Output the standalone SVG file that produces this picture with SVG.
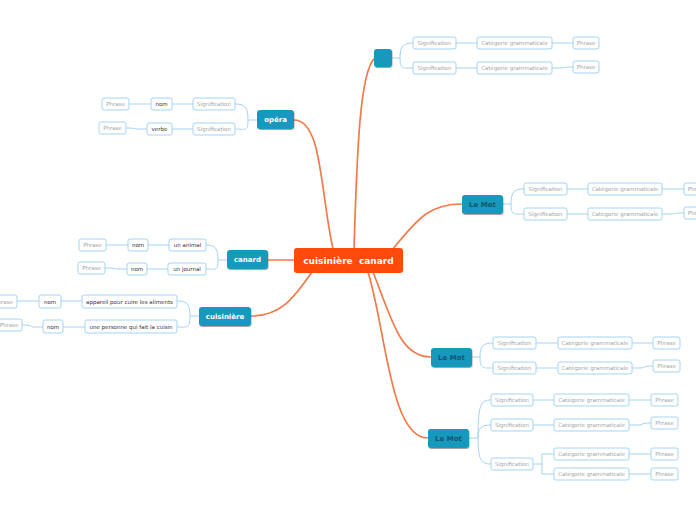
<svg xmlns="http://www.w3.org/2000/svg" width="696" height="520" viewBox="0 0 696 520">
<defs>
<filter id="sh" x="-20%" y="-20%" width="140%" height="160%"><feDropShadow dx="0.5" dy="1" stdDeviation="0.7" flood-color="#000" flood-opacity="0.35"/></filter>
<style>
text{font-family:"DejaVu Sans","Liberation Sans",sans-serif;text-anchor:middle}
.main{stroke:#f27a4a;stroke-width:1.7;fill:none;stroke-linecap:round}
.sub{stroke:#a3d3f3;stroke-width:1;fill:none}
.box{fill:#fff;stroke:#a3d3f3;stroke-width:1}
.topic{fill:#1699bd;filter:url(#sh)}
.g{font-size:5.5px;fill:#a5a5a5}
.d{font-size:5.5px;fill:#333}
.tw{font-size:7px;font-weight:bold;fill:#fff}
.td{font-size:7px;font-weight:bold;fill:#0e5670}
</style>
</defs>
<rect width="696" height="520" fill="#fff"/>
<g id="connectors">
<path class="main" d="M354,249 C357,150 360,70 375,58"/>
<path class="main" d="M333,249 C320,190 322,120 294,120"/>
<path class="main" d="M393,249 C420,215 432,204 462,204"/>
<path class="main" d="M295,260 L268,260"/>
<path class="main" d="M312,272 C295,296 282,316 251,316"/>
<path class="main" d="M373,272 C392,320 400,357 431,357"/>
<path class="main" d="M368,272 C386,330 390,438 428,438"/>
<path class="sub" d="M392,58 L400,58 C400,46 403,43 413,43 M400,58 C400,70 403,68 413,68 M456,43 L477,43 M552,43 L573,43 M456,68 L477,68 M552,68 L562,68 C566,67 568,67 573,67"/>
<path class="sub" d="M503,204 L511,204 C511,192 514,189 524,189 M511,204 C511,216 514,214 524,214 M567,189 L588,189 M662,189 L684,189 M567,214 L588,214 M662,214 L672,214 C676,213 678,213 684,213"/>
<path class="sub" d="M472,357 L480,357 C480,346 483,343 493,343 M480,357 C480,369 483,368 493,368 M536,343 L558,343 M632,343 L653,343 M536,368 L558,368 M632,368 L642,368 C646,366 648,366 653,366"/>
<path class="sub" d="M469,438 L478,438 C478,404 481,400 491,400 M478,438 C478,428 481,425 491,425 M478,438 C478,460 481,464 491,464 M533,400 L554,400 M629,400 L651,400 M533,425 L554,425 M629,425 L640,425 C644,423 646,423 651,423 M533,464 L542,464 M542,454 L542,474 M542,454 L554,454 M542,474 L554,474 M629,454 L651,454 M629,474 L651,474"/>
<path class="sub" d="M257,120 L248,120 C248,107 245,104 235,104 M248,120 C248,132 245,129 235,129 M193,104 L172,104 M151,104 L129,104 M193,129 L172,129 M147,129 L136,129 C132,128 130,128 126,128"/>
<path class="sub" d="M227,260 L218,260 C218,248 215,245 206,245 M218,260 C218,272 215,269 206,269 M169,245 L148,245 M128,245 L106,245 M168,269 L147,269 M127,269 L116,269 C112,268 110,268 105,268"/>
<path class="sub" d="M199,316 L190,316 C190,304 187,301 177,301 M190,316 C190,329 187,327 177,327 M82,301 L61,301 M39,301 L17,301 M85,327 L63,327 M43,327 L33,327 C29,325 27,325 22,325"/>
</g>
<g id="center"><rect x="294" y="248" width="109" height="25" rx="3" fill="#ff4a0c"/><text x="348.5" y="264" xml:space="preserve" style="font-size:9px;font-weight:bold;fill:#fff;white-space:pre">cuisinière  canard</text></g>
<g id="topicA"><rect class="topic" x="374" y="49" width="18" height="18" rx="3"/></g>
<g id="opera"><rect class="topic" x="257" y="110" width="37" height="19" rx="3"/><text class="tw" x="275.5" y="122">opéra</text></g>
<g id="canard"><rect class="topic" x="227" y="250" width="41" height="19" rx="3"/><text class="tw" x="247.5" y="262">canard</text></g>
<g id="cuisiniere"><rect class="topic" x="199" y="307" width="52" height="19" rx="3"/><text class="tw" x="225" y="319">cuisinière</text></g>
<g id="lemot1"><rect class="topic" x="462" y="195" width="41" height="19" rx="3"/><text class="td" x="482.5" y="207">Le Mot</text></g>
<g id="lemot2"><rect class="topic" x="431" y="348" width="41" height="19" rx="3"/><text class="td" x="451.5" y="360">Le Mot</text></g>
<g id="lemot3"><rect class="topic" x="428" y="429" width="41" height="19" rx="3"/><text class="td" x="448.5" y="441">Le Mot</text></g>
<g id="a-row1"><rect class="box" x="413" y="37" width="43" height="12" rx="2"/><text class="g" x="434.5" y="45">Signification</text><rect class="box" x="477" y="37" width="75" height="12" rx="2"/><text class="g" x="514.5" y="45">Catégorie grammaticale</text><rect class="box" x="573" y="37" width="26" height="12" rx="2"/><text class="g" x="586" y="45">Phrase</text></g>
<g id="a-row2"><rect class="box" x="413" y="62" width="43" height="12" rx="2"/><text class="g" x="434.5" y="70">Signification</text><rect class="box" x="477" y="62" width="75" height="12" rx="2"/><text class="g" x="514.5" y="70">Catégorie grammaticale</text><rect class="box" x="573" y="61" width="26" height="12" rx="2"/><text class="g" x="586" y="69">Phrase</text></g>
<g id="m1-row1"><rect class="box" x="524" y="183" width="43" height="12" rx="2"/><text class="g" x="545.5" y="191">Signification</text><rect class="box" x="588" y="183" width="74" height="12" rx="2"/><text class="g" x="625" y="191">Catégorie grammaticale</text><rect class="box" x="684" y="183" width="26" height="12" rx="2"/><text class="g" x="697" y="191">Phrase</text></g>
<g id="m1-row2"><rect class="box" x="524" y="208" width="43" height="12" rx="2"/><text class="g" x="545.5" y="216">Signification</text><rect class="box" x="588" y="208" width="74" height="12" rx="2"/><text class="g" x="625" y="216">Catégorie grammaticale</text><rect class="box" x="684" y="207" width="26" height="12" rx="2"/><text class="g" x="697" y="215">Phrase</text></g>
<g id="m2-row1"><rect class="box" x="493" y="337" width="43" height="12" rx="2"/><text class="g" x="514.5" y="345">Signification</text><rect class="box" x="558" y="337" width="74" height="12" rx="2"/><text class="g" x="595" y="345">Catégorie grammaticale</text><rect class="box" x="653" y="337" width="27" height="12" rx="2"/><text class="g" x="666.5" y="345">Phrase</text></g>
<g id="m2-row2"><rect class="box" x="493" y="362" width="43" height="12" rx="2"/><text class="g" x="514.5" y="370">Signification</text><rect class="box" x="558" y="362" width="74" height="12" rx="2"/><text class="g" x="595" y="370">Catégorie grammaticale</text><rect class="box" x="653" y="360" width="27" height="12" rx="2"/><text class="g" x="666.5" y="368">Phrase</text></g>
<g id="m3-row1"><rect class="box" x="491" y="394" width="42" height="12" rx="2"/><text class="g" x="512" y="402">Signification</text><rect class="box" x="554" y="394" width="75" height="12" rx="2"/><text class="g" x="591.5" y="402">Catégorie grammaticale</text><rect class="box" x="651" y="394" width="27" height="12" rx="2"/><text class="g" x="664.5" y="402">Phrase</text></g>
<g id="m3-row2"><rect class="box" x="491" y="419" width="42" height="12" rx="2"/><text class="g" x="512" y="427">Signification</text><rect class="box" x="554" y="419" width="75" height="12" rx="2"/><text class="g" x="591.5" y="427">Catégorie grammaticale</text><rect class="box" x="651" y="417" width="27" height="12" rx="2"/><text class="g" x="664.5" y="425">Phrase</text></g>
<g id="m3-row3"><rect class="box" x="491" y="458" width="42" height="12" rx="2"/><text class="g" x="512" y="466">Signification</text><rect class="box" x="554" y="448" width="75" height="12" rx="2"/><text class="g" x="591.5" y="456">Catégorie grammaticale</text><rect class="box" x="651" y="448" width="27" height="12" rx="2"/><text class="g" x="664.5" y="456">Phrase</text><rect class="box" x="554" y="468" width="75" height="12" rx="2"/><text class="g" x="591.5" y="476">Catégorie grammaticale</text><rect class="box" x="651" y="468" width="27" height="12" rx="2"/><text class="g" x="664.5" y="476">Phrase</text></g>
<g id="op-row1"><rect class="box" x="193" y="98" width="42" height="12" rx="2"/><text class="g" x="214" y="106">Signification</text><rect class="box" x="151" y="98" width="21" height="12" rx="2"/><text class="d" x="161.5" y="106">nom</text><rect class="box" x="102" y="98" width="27" height="12" rx="2"/><text class="g" x="115.5" y="106">Phrase</text></g>
<g id="op-row2"><rect class="box" x="193" y="123" width="42" height="12" rx="2"/><text class="g" x="214" y="131">Signification</text><rect class="box" x="147" y="123" width="25" height="12" rx="2"/><text class="d" x="159.5" y="131">verbe</text><rect class="box" x="99" y="122" width="27" height="12" rx="2"/><text class="g" x="112.5" y="130">Phrase</text></g>
<g id="ca-row1"><rect class="box" x="169" y="239" width="37" height="12" rx="2"/><text class="d" x="187.5" y="247">un animal</text><rect class="box" x="128" y="239" width="20" height="12" rx="2"/><text class="d" x="138" y="247">nom</text><rect class="box" x="79" y="239" width="27" height="12" rx="2"/><text class="g" x="92.5" y="247">Phrase</text></g>
<g id="ca-row2"><rect class="box" x="168" y="263" width="38" height="12" rx="2"/><text class="d" x="187" y="271">un journal</text><rect class="box" x="127" y="263" width="20" height="12" rx="2"/><text class="d" x="137" y="271">nom</text><rect class="box" x="78" y="262" width="27" height="12" rx="2"/><text class="g" x="91.5" y="270">Phrase</text></g>
<g id="cu-row1"><rect class="box" x="82" y="295" width="95" height="13" rx="2"/><text class="d" x="129.5" y="303.5">appareil pour cuire les aliments</text><rect class="box" x="39" y="295" width="22" height="13" rx="2"/><text class="d" x="50" y="303.5">nom</text><rect class="box" x="-10" y="295" width="27" height="13" rx="2"/><text class="g" x="3.5" y="303.5">Phrase</text></g>
<g id="cu-row2"><rect class="box" x="85" y="320" width="92" height="13" rx="2"/><text class="d" x="131" y="328.5">une personne qui fait la cuisin</text><rect class="box" x="43" y="320" width="20" height="13" rx="2"/><text class="d" x="53" y="328.5">nom</text><rect class="box" x="-4" y="319" width="26" height="12" rx="2"/><text class="g" x="9" y="327">Phrase</text></g>
</svg>
